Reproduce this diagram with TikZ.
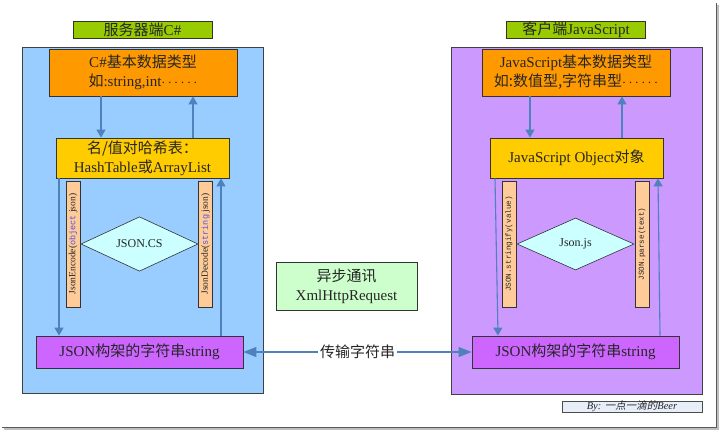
\documentclass[tikz,border=0pt]{standalone}
\usepackage{fontspec}
\setmainfont{Liberation Serif}
\setmonofont{Liberation Mono}
\newfontfamily\cjk{Noto Sans CJK SC}
\newfontfamily\cjkslant[FakeSlant=0.2]{Noto Sans CJK SC}
\usepackage{xcolor}
\usepackage{tikz}
\usetikzlibrary{positioning,arrows.meta,shapes.geometric,calc}

\definecolor{paneblue}{HTML}{99CCFF}
\definecolor{panepurple}{HTML}{CC99FF}
\definecolor{titlegreen}{HTML}{99CC00}
\definecolor{typeorange}{HTML}{FF9900}
\definecolor{hashyellow}{HTML}{FFCC00}
\definecolor{strpurple}{HTML}{CC66FF}
\definecolor{barpeach}{HTML}{FFCC99}
\definecolor{codeccyan}{HTML}{CCFFFF}
\definecolor{ajaxgreen}{HTML}{CCFFCC}
\definecolor{bybg}{HTML}{E8EEF8}
\definecolor{flowblue}{HTML}{4F81BD}
\definecolor{kwblue}{HTML}{5050E0}

\newcommand{\zh}[1]{{\cjk #1}}
\newcommand{\dotrun}{$\cdots\cdots$}

\tikzset{
  box/.style={draw=black!80, line width=0.8pt, align=center, inner sep=0pt,
    font=\fontsize{15}{19}\selectfont},
  titlebox/.style={box, fill=titlegreen, minimum width=139, minimum height=17},
  typebox/.style={box, fill=typeorange, minimum width=188, minimum height=47},
  hashbox/.style={box, fill=hashyellow, minimum width=173, minimum height=40},
  strbox/.style={box, fill=strpurple, minimum width=207, minimum height=32},
  ajaxbox/.style={box, fill=ajaxgreen, minimum width=141, minimum height=48},
  barbox/.style={draw=black!80, line width=0.8pt, fill=barpeach, inner sep=0pt,
    minimum width=126, minimum height=14, font=\fontsize{9.5}{10}\selectfont},
  codec/.style={diamond, draw=black!80, line width=0.6pt, fill=codeccyan,
    inner sep=0pt, minimum width=117, minimum height=52,
    font=\fontsize{12}{14}\selectfont},
  flow/.style={draw=flowblue, line width=1.1pt, -{Triangle[length=8pt,width=9pt]}},
  pane/.style={draw=black!75, line width=0.8pt}
}

\begin{document}
\begin{tikzpicture}[x=1pt, y=-1pt, every node/.style={text=black!85}]
\useasboundingbox (0,0) rectangle (720,431);

% Frame shadow
\draw[black!25, line width=2pt] (4,428.5) -- (717.5,428.5) -- (717.5,5);
\draw[black!65, line width=0.8pt] (2,427) -- (716,427) -- (716,3);

% Panels
\filldraw[pane, fill=paneblue] (22,47) rectangle (263,393);
\filldraw[pane, fill=panepurple] (451,47) rectangle (702,394);

% Titles
\node[titlebox] (srvT) at (142.5,29.5) {\zh{服务器端}C\#};
\node[titlebox] (cliT) at (576,29.5) {\zh{客户端}JavaScript};

% Server side (C#)
\node[typebox] (typL) at (143,72.5) {C\#\zh{基本数据类型}\\\zh{如}:string,int\dotrun};
\node[hashbox] (hashL) at (142.5,158) {\zh{名/值对哈希表：}\\HashTable\zh{或}ArrayList};
\node[barbox, rotate=90] (encL) at (73,244)
  {JsonEncode({\fontsize{8.5}{10}\selectfont\ttfamily\color{kwblue}object} json)};
\node[codec] (csL) at (139.5,244) {JSON.CS};
\node[barbox, rotate=90] (decL) at (205.5,244)
  {JsonDecode({\fontsize{8.5}{10}\selectfont\ttfamily\color{kwblue}string} json)};
\node[strbox] (jsonL) at (139.5,352) {JSON\zh{构架的字符串}string};

\draw[flow] ([xshift=-42]typL.south) -- ([xshift=-41.5]hashL.north);
\draw[flow] ([xshift=50.5]hashL.north) -- ([xshift=50]typL.south);
\draw[flow] ([xshift=-83.5]hashL.south) -- ([xshift=-80.5]jsonL.north);
\draw[flow] ([xshift=81.5]jsonL.north) -- ([xshift=78.5]hashL.south);

% Client side (JavaScript)
\node[typebox] (typR) at (576,72.5) {JavaScript\zh{基本数据类型}\\\zh{如:数值型,字符串型}\dotrun};
\node[hashbox] (objR) at (576.5,158) {JavaScript Object\zh{对象}};
\node[barbox, rotate=90, font=\fontsize{7.6}{9}\selectfont\ttfamily] (strR) at (509,244) {JSON.stringify(value)};
\node[codec] (jsR) at (575.5,244) {Json.js};
\node[barbox, rotate=90, font=\fontsize{7.6}{9}\selectfont\ttfamily] (parR) at (642,244) {JSON.parse(text)};
\node[strbox] (jsonR) at (575.5,352) {JSON\zh{构架的字符串}string};

\draw[flow] ([xshift=-46]typR.south) -- ([xshift=-46.5]objR.north);
\draw[flow] ([xshift=45.5]objR.north) -- ([xshift=46]typR.south);
\draw[flow] ([xshift=-81.5]objR.south) -- ([xshift=-77.5]jsonR.north);
\draw[flow] ([xshift=84.5]jsonR.north) -- ([xshift=81.5]objR.south);

% Transport
\node[ajaxbox] (ajax) at (346.5,286) {\zh{异步通讯}\\XmlHttpRequest};
\draw[flow, {Triangle[length=13pt,width=10pt]}-{Triangle[length=13pt,width=10pt]}]
  (jsonL.east) -- node[fill=white, inner sep=2pt, font=\fontsize{15}{17}\selectfont]
  (trans) {\zh{传输字符串}} (jsonR.west);

% Signature
\node[draw=black!70, line width=0.8pt, fill=bybg, minimum width=140, minimum height=9,
  inner sep=0pt, font=\fontsize{10.5}{10}\selectfont\itshape] (sign) at (632,406.5)
  {By: {\cjkslant 一点一滴的}Beer};

\end{tikzpicture}
\end{document}
